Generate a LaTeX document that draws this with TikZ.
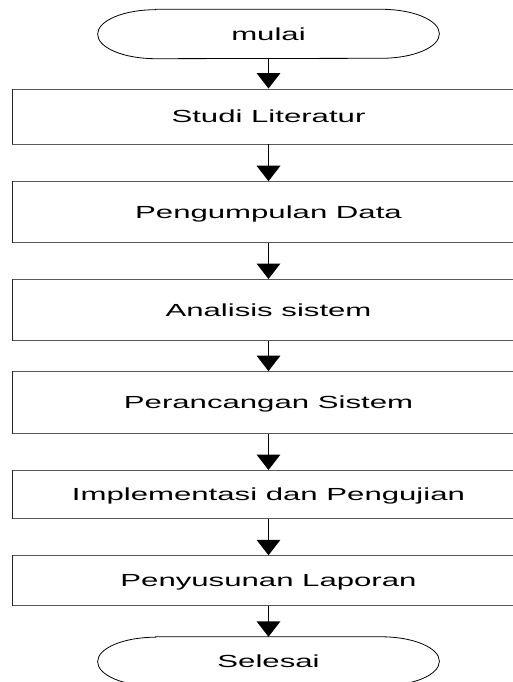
\documentclass[tikz,border=0pt]{standalone}
\usepackage{fontspec}
\newfontfamily\lblfont{Liberation Sans}[FakeStretch=1.78]
\usetikzlibrary{arrows.meta}
\tikzset{
  lbl/.style={font=\lblfont\fontsize{17.5}{20}\selectfont, text height=12.5pt, text depth=0pt, inner sep=0pt},
  procbox/.style={lbl, draw=black!65, line width=0.9pt, minimum width=511.6pt},
  termnode/.style={lbl, minimum width=341.4pt, minimum height=49pt},
  termline/.style={line width=0.8pt, draw=black},
  flow/.style={line width=1.8pt, -{Triangle[width=23.5pt,length=15.5pt]}},
}
\newcommand\drawterm[1]{%
  \draw[termline] ([xshift=58pt]#1.north west) -- ([xshift=-58pt]#1.north east)
    arc[start angle=90,end angle=-90,x radius=58pt,y radius=24.5pt]
    -- ([xshift=58pt]#1.south west)
    arc[start angle=270,end angle=90,x radius=58pt,y radius=24.5pt] -- cycle;}
\begin{document}
\begin{tikzpicture}[x=1pt,y=1pt]
\useasboundingbox (0,0) rectangle (513,682);
\clip (0,0) rectangle (513,682);
\fill[white] (0,0) rectangle (513,682);

\node[termnode] (start) at (268.5,648) {mulai};
\drawterm{start}
\node[procbox, minimum height=55pt] (s1) at (268.5,565.5) {Studi Literatur};
\node[procbox, minimum height=61pt] (s2) at (268.5,469.8) {Pengumpulan Data};
\node[procbox, minimum height=61pt] (s3) at (268.5,372) {Analisis sistem};
\node[procbox, minimum height=62pt] (s4) at (268.5,279.4) {Perancangan Sistem};
\node[procbox, minimum height=48pt] (s5) at (268.5,187.5) {Implementasi dan Pengujian};
\node[procbox, minimum height=49.5pt] (s6) at (268.5,101.5) {Penyusunan Laporan};
\node[termnode] (end) at (268.5,20.5) {Selesai};
\drawterm{end}

\foreach \b in {s1,s2,s3,s4,s5,s6}
  \draw[line width=1.3pt, black!85] (\b.north west) -- (\b.south west);

\draw[flow] (start.south) -- (s1.north);
\draw[flow] (s1.south) -- (s2.north);
\draw[flow] (s2.south) -- (s3.north);
\draw[flow] (s3.south) -- (s4.north);
\draw[flow] (s4.south) -- (s5.north);
\draw[flow] (s5.south) -- (s6.north);
\draw[flow] (s6.south) -- (end.north);
\end{tikzpicture}
\end{document}
